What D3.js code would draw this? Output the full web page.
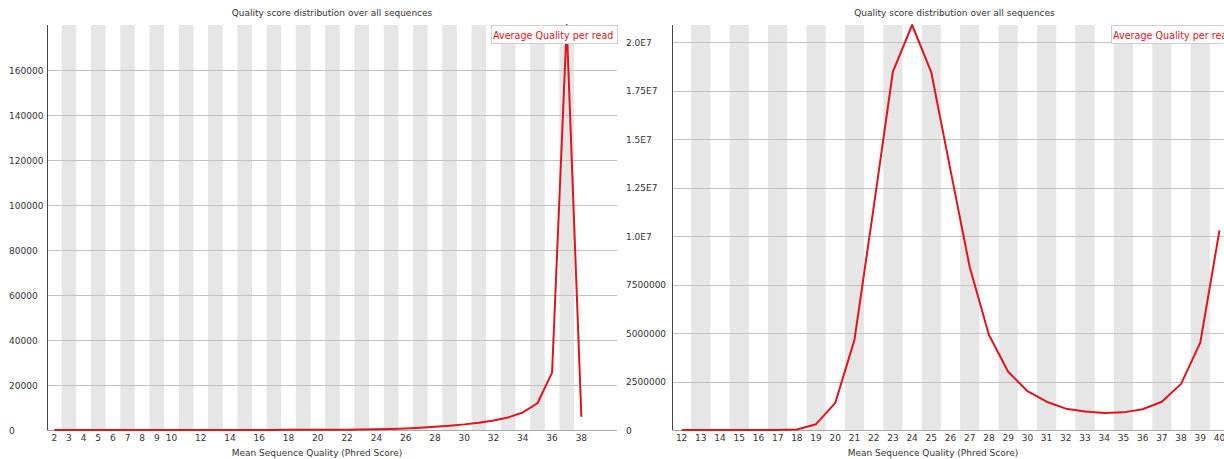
<!DOCTYPE html>
<html>
<head>
<meta charset="utf-8">
<script src="https://cdn.jsdelivr.net/npm/d3@7"></script>
<style>
  body { margin: 0; background: #fff; }
  svg { display: block; font-family: "DejaVu Sans", sans-serif; }
</style>
</head>
<body>
<svg width="1224" height="459"></svg>
<script>
// Left panel: mean quality 2..38
const leftCategories = [2, 3, 4, 5, 6, 7, 8, 9, 10, 11, 12, 13, 14, 15, 16, 17, 18, 19, 20, 21,
    22, 23, 24, 25, 26, 27, 28, 29, 30, 31, 32, 33, 34, 35, 36, 37, 38];
const leftCounts = [5, 3, 4, 6, 8, 10, 12, 15, 18, 22, 25, 30, 35, 40, 48, 55, 65, 75, 90, 110,
    140, 190, 300, 450, 700, 1050, 1450, 1900, 2500, 3250, 4200, 5600, 7800, 11900, 25500, 180000, 5900];
const leftXLabels = [2, 3, 4, 5, 6, 7, 8, 9, 10, 12, 14, 16, 18, 20, 22, 24, 26, 28, 30, 32, 34, 36, 38];
const leftYTicks = [0, 20000, 40000, 60000, 80000, 100000, 120000, 140000, 160000];
const leftYLabels = ["0", "20000", "40000", "60000", "80000", "100000", "120000", "140000", "160000"];

// Right panel: mean quality 12..40
const rightCategories = [12, 13, 14, 15, 16, 17, 18, 19, 20, 21, 22, 23, 24, 25, 26, 27, 28, 29, 30,
    31, 32, 33, 34, 35, 36, 37, 38, 39, 40];
const rightCounts = [500, 800, 1200, 2000, 3500, 6000, 25000, 300000, 1400000, 4660000, 11500000,
    18500000, 20900000, 18450000, 13400000, 8400000, 4900000, 3010000, 2010000, 1460000, 1100000,
    950000, 880000, 910000, 1070000, 1460000, 2380000, 4510000, 10300000];
const rightXLabels = rightCategories.slice();
const rightYTicks = [0, 2500000, 5000000, 7500000, 10000000, 12500000, 15000000, 17500000, 20000000];
const rightYLabels = ["0", "2500000", "5000000", "7500000", "1.0E7", "1.25E7", "1.5E7", "1.75E7", "2.0E7"];

const chartTitle = "Quality score distribution over all sequences";
const xTitle = "Mean Sequence Quality (Phred Score)";
const legendText = "Average Quality per read";

const svg = d3.select("svg");
const plotTop = 25, plotBottom = 430;

function drawPanel(p) {
    const g = svg.append("g");

    const x = d3.scaleBand()
        .domain(p.categories)
        .range([p.axisX, p.axisX + p.categories.length * p.step]);

    const y = d3.scaleLinear()
        .domain([0, d3.max(p.counts)])
        .range([plotBottom, plotTop]);

    // alternating grey bands
    g.selectAll("rect.band")
        .data(p.categories.filter((d, i) => i % 2 === 1))
        .enter().append("rect")
        .attr("x", d => x(d))
        .attr("y", plotTop)
        .attr("width", x.bandwidth())
        .attr("height", plotBottom - plotTop)
        .attr("fill", "#e6e6e6");

    // horizontal grid lines
    g.selectAll("line.grid")
        .data(p.yTicks.slice(1))
        .enter().append("line")
        .attr("x1", p.axisX + 1)
        .attr("x2", p.gridEnd)
        .attr("y1", d => Math.round(y(d)) + 0.5)
        .attr("y2", d => Math.round(y(d)) + 0.5)
        .attr("stroke", "#c2c2c2");

    // axes
    g.append("line")
        .attr("x1", p.axisX + 0.5).attr("x2", p.axisX + 0.5)
        .attr("y1", plotTop).attr("y2", plotBottom)
        .attr("stroke", "#444");
    g.append("line")
        .attr("x1", p.axisX).attr("x2", p.gridEnd)
        .attr("y1", plotBottom + 0.5).attr("y2", plotBottom + 0.5)
        .attr("stroke", "#aaa");

    // y tick labels
    g.selectAll("text.ytick")
        .data(p.yTicks)
        .enter().append("text")
        .attr("x", p.labelX)
        .attr("y", d => y(d) + 3.5)
        .attr("font-size", 9)
        .attr("fill", "#333")
        .text((d, i) => p.yLabels[i]);

    // x tick labels
    g.selectAll("text.xtick")
        .data(p.xLabels)
        .enter().append("text")
        .attr("x", d => x(d) + x.bandwidth() / 2)
        .attr("y", 441)
        .attr("text-anchor", "middle")
        .attr("font-size", 9)
        .attr("fill", "#333")
        .text(d => d);

    // data line
    const line = d3.line()
        .x((d, i) => x(p.categories[i]) + x.bandwidth() / 2)
        .y(d => y(d));
    g.append("path")
        .datum(p.counts)
        .attr("d", line)
        .attr("fill", "none")
        .attr("stroke", "#e3131b")
        .attr("stroke-width", 2)
        .attr("stroke-linejoin", "round");

    // titles
    g.append("text")
        .attr("x", (p.axisX + p.gridEnd) / 2)
        .attr("y", 16)
        .attr("text-anchor", "middle")
        .attr("font-size", 9)
        .attr("fill", "#333")
        .text(chartTitle);
    g.append("text")
        .attr("x", p.xTitleX)
        .attr("y", 456)
        .attr("text-anchor", "middle")
        .attr("font-size", 9)
        .attr("fill", "#333")
        .text(xTitle);

    // legend
    g.append("rect")
        .attr("x", p.gridEnd - 126 + 0.5)
        .attr("y", 25.5)
        .attr("width", 126)
        .attr("height", 18)
        .attr("fill", "#fff")
        .attr("stroke", "#d0d0d0");
    g.append("text")
        .attr("x", p.gridEnd - 124)
        .attr("y", 39)
        .attr("font-size", 9.6)
        .attr("fill", "#e3131b")
        .text(legendText);
}

drawPanel({
    categories: leftCategories, counts: leftCounts, xLabels: leftXLabels,
    yTicks: leftYTicks, yLabels: leftYLabels,
    axisX: 47, step: 14.64, gridEnd: 617, labelX: 9, xTitleX: 317
});

drawPanel({
    categories: rightCategories, counts: rightCounts, xLabels: rightXLabels,
    yTicks: rightYTicks, yLabels: rightYLabels,
    axisX: 672, step: 19.21, gridEnd: 1237, labelX: 626, xTitleX: 933
});
</script>
</body>
</html>
